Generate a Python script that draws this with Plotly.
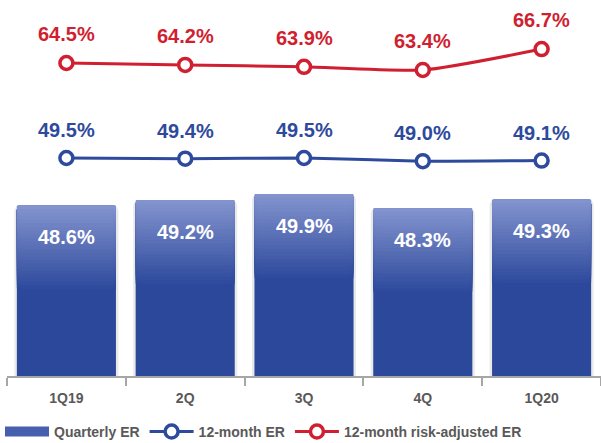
import numpy as np
import plotly.graph_objects as go

categories = ["1Q19", "2Q", "3Q", "4Q", "1Q20"]
quarterly_er = [48.6, 49.2, 49.9, 48.3, 49.3]
twelve_month_er = [49.5, 49.4, 49.5, 49.0, 49.1]
risk_adjusted_er = [64.5, 64.2, 63.9, 63.4, 66.7]

BLUE = "#2D4A9C"
RED = "#D01F30"
DARK_BAR = (44, 72, 155)
LIGHT_BAR = (130, 147, 206)
FONT = "Arial, Liberation Sans, sans-serif"

fig = go.Figure()
vals = np.array(quarterly_er)

# shadow behind bars
fig.add_trace(go.Bar(x=categories, y=vals, width=0.875, marker=dict(color="#e9e9e9", line=dict(width=0), cornerradius=6),
                     showlegend=False, hoverinfo="skip"))

# gradient bars (layers, darkest/longest first)
N = 24
grad_span = 10.0
fig.add_trace(go.Bar(x=categories, y=vals, width=0.834,
                     marker=dict(color="rgb(%d,%d,%d)" % DARK_BAR, line=dict(width=0), cornerradius=5),
                     showlegend=False, hoverinfo="skip"))
for i in range(N):
    h = grad_span * (N - i) / N
    t = i / (N - 1)
    c = tuple(int(round(DARK_BAR[k] + (LIGHT_BAR[k] - DARK_BAR[k]) * t)) for k in range(3))
    fig.add_trace(go.Bar(x=categories, y=np.full(len(vals), h), base=vals - h, width=0.834,
                         marker=dict(color="rgb(%d,%d,%d)" % c, line=dict(width=0), cornerradius=5),
                         showlegend=False, hoverinfo="skip"))

# legend proxy for bars
fig.add_trace(go.Scatter(x=[None], y=[None], mode="lines", name="Quarterly ER",
                         line=dict(color="rgb(70,95,175)", width=10)))

fig.add_trace(go.Scatter(x=categories, y=twelve_month_er, yaxis="y2", mode="lines+markers", name="12-month ER",
                         line=dict(color=BLUE, width=3, shape="spline", smoothing=0.5),
                         marker=dict(symbol="circle", size=13, color="white", line=dict(color=BLUE, width=3.5))))
fig.add_trace(go.Scatter(x=categories, y=risk_adjusted_er, yaxis="y2", mode="lines+markers", name="12-month risk-adjusted ER",
                         line=dict(color=RED, width=3, shape="spline", smoothing=0.6),
                         marker=dict(symbol="circle", size=13, color="white", line=dict(color=RED, width=3.5))))

annotations = []
for c, v in zip(categories, quarterly_er):
    annotations.append(dict(x=c, y=v, xref="x", yref="y", text=f"{v:.1f}%", showarrow=False, yshift=-32,
                            font=dict(family=FONT, size=20, color="white", weight="bold")))
for c, v in zip(categories, twelve_month_er):
    annotations.append(dict(x=c, y=v, xref="x", yref="y2", text=f"{v:.1f}%", showarrow=False, yshift=28,
                            font=dict(family=FONT, size=20, color=BLUE, weight="bold")))
for c, v in zip(categories, risk_adjusted_er):
    annotations.append(dict(x=c, y=v, xref="x", yref="y2", text=f"{v:.1f}%", showarrow=False, yshift=29,
                            font=dict(family=FONT, size=20, color=RED, weight="bold")))

fig.update_layout(
    width=601, height=443,
    margin=dict(l=7, r=0, t=0, b=67),
    plot_bgcolor="white", paper_bgcolor="white",
    barmode="overlay", bargap=0.166,
    font=dict(family=FONT, color="#595959"),
    xaxis=dict(type="category", showline=True, linecolor="#a6a6a6", linewidth=1.5,
               ticks="outside", tickson="boundaries", ticklen=8, tickcolor="#a6a6a6", tickwidth=1.5,
               ticklabelstandoff=8, automargin=False,
               tickfont=dict(family=FONT, size=14, color="#595959", weight="bold"), showgrid=False),
    yaxis=dict(range=[29.1, 72.07], visible=False, showgrid=False),
    yaxis2=dict(range=[15.08, 74.45], overlaying="y", visible=False, showgrid=False),
    annotations=annotations,
    legend=dict(orientation="h", x=-0.003, xanchor="left", xref="container",
                y=0.025, yanchor="middle", yref="container",
                font=dict(family=FONT, size=14, color="#595959", weight="bold"),
                itemwidth=44, tracegroupgap=0),
    showlegend=True,
)

fig.write_html("out.html")
